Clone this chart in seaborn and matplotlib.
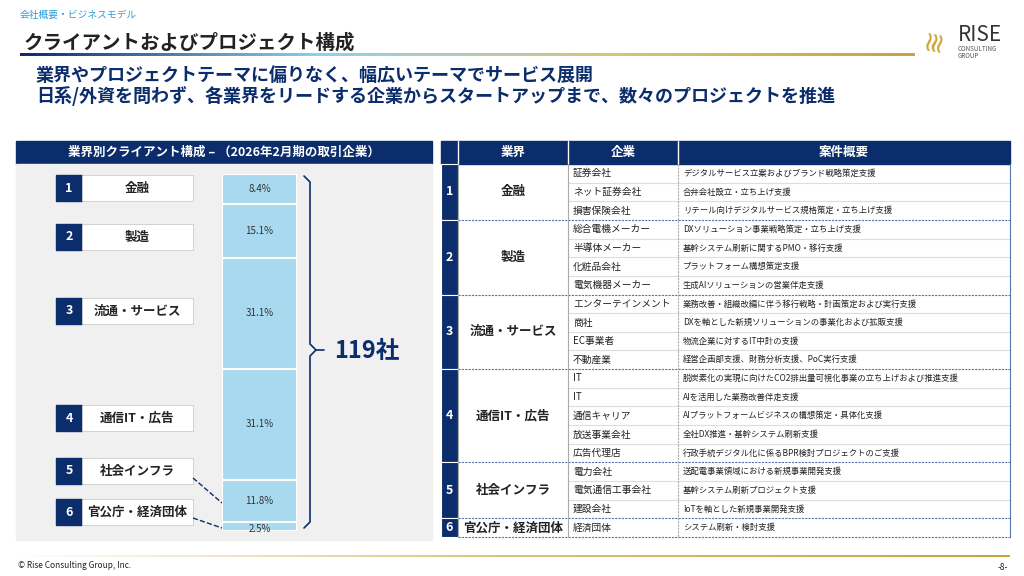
import numpy as np
import pandas as pd
import seaborn as sns
import matplotlib.pyplot as plt
from matplotlib.colors import LinearSegmentedColormap

sns.set_theme(style="white")
plt.rcParams['font.family'] = ['Noto Sans CJK JP', 'DejaVu Sans']

NAVY = "#0b2d6b"
BARC = "#a9d9ef"

# data
industries = ["金融", "製造", "流通・サービス", "通信IT・広告", "社会インフラ", "官公庁・経済団体"]
shares = [8.4, 15.1, 31.1, 31.1, 11.8, 2.5]
total_clients = "119社"
companies = [
    ["証券会社", "ネット証券会社", "損害保険会社"],
    ["総合電機メーカー", "半導体メーカー", "化粧品会社", "電気機器メーカー"],
    ["エンターテインメント", "商社", "EC事業者", "不動産業"],
    ["IT", "IT", "通信キャリア", "放送事業会社", "広告代理店"],
    ["電力会社", "電気通信工事会社", "建設会社"],
    ["経済団体"],
]
summaries = [
    ["デジタルサービス立案およびブランド戦略策定支援", "合弁会社設立・立ち上げ支援", "リテール向けデジタルサービス規格策定・立ち上げ支援"],
    ["DXソリューション事業戦略策定・立ち上げ支援", "基幹システム刷新に関するPMO・移行支援", "プラットフォーム構想策定支援", "生成AIソリューションの営業伴走支援"],
    ["業務改善・組織改編に伴う移行戦略・計画策定および実行支援", "DXを軸とした新規ソリューションの事業化および拡販支援", "物流企業に対するIT中計の支援", "経営企画部支援、財務分析支援、PoC実行支援"],
    ["脱炭素化の実現に向けたCO2排出量可視化事業の立ち上げおよび推進支援", "AIを活用した業務改善伴走支援", "AIプラットフォームビジネスの構想策定・具体化支援", "全社DX推進・基幹システム刷新支援", "行政手続デジタル化に係るBPR検討プロジェクトのご支援"],
    ["送配電事業領域における新規事業開発支援", "基幹システム刷新プロジェクト支援", "IoTを軸とした新規事業開発支援"],
    ["システム刷新・検討支援"],
]

fig = plt.figure(figsize=(10.24, 5.76), dpi=100)
ax = fig.add_axes([0, 0, 1, 1])
ax.set_xlim(0, 1024)
ax.set_ylim(576, 0)
ax.axis("off")

# header
ax.text(20, 15, "会社概要・ビジネスモデル", fontsize=7, color="#2a9fd6", va="center")
ax.text(24, 43, "クライアントおよびプロジェクト構成", fontsize=14, color="#222222", va="center", fontweight="bold")
grad = LinearSegmentedColormap.from_list("g", [NAVY, "#8fd0ee", "#d8c37a", "#c9a43a"])
ax.imshow(np.linspace(0, 1, 256)[None, :], cmap=grad, extent=(20, 915, 56.5, 54), aspect="auto")
ax.imshow(np.linspace(0, 1, 256)[None, :], cmap=LinearSegmentedColormap.from_list("f", ["#ffffff", "#d9c27a", "#c9a43a"]),
          extent=(15, 1010, 557.5, 555.5), aspect="auto")
ax.text(958, 35, "RISE", fontsize=15, color="#333333", va="center")
ax.text(958, 49, "CONSULTING", fontsize=4.5, color="#555555", va="center")
ax.text(958, 56, "GROUP", fontsize=4.5, color="#555555", va="center")
ax.text(934, 40, "≋", fontsize=20, color="#c9a43a", va="center", ha="center", rotation=80)
ax.text(36, 75, "業界やプロジェクトテーマに偏りなく、幅広いテーマでサービス展開", fontsize=13, color=NAVY, fontweight="bold", va="center")
ax.text(36, 96, "日系/外資を問わず、各業界をリードする企業からスタートアップまで、数々のプロジェクトを推進", fontsize=13, color=NAVY, fontweight="bold", va="center")
ax.text(18, 566, "© Rise Consulting Group, Inc.", fontsize=6, color="#222222", va="center")
ax.text(1008, 567, "-8-", fontsize=6, color="#222222", va="center", ha="right")

# left panel
ax.add_patch(plt.Rectangle((16, 141), 416, 23, color=NAVY))
ax.text(224, 152.5, "業界別クライアント構成 – （2026年2月期の取引企業）", fontsize=9, color="white", fontweight="bold", ha="center", va="center")
ax.add_patch(plt.Rectangle((16, 164), 416, 376, color="#f0f0f0"))

label_y = [188, 237, 311, 418, 471, 512]
for i, (name, y) in enumerate(zip(industries, label_y)):
    ax.add_patch(plt.Rectangle((56, y - 13), 26, 26, color=NAVY))
    ax.add_patch(plt.Rectangle((82, y - 13), 111, 26, facecolor="white", edgecolor="#cccccc", lw=0.6))
    ax.text(69, y, str(i + 1), fontsize=9, color="white", fontweight="bold", ha="center", va="center")
    ax.text(137, y, name, fontsize=9, color="#222222", fontweight="bold", ha="center", va="center")

# stacked bar via seaborn in an inset axes
bx = fig.add_axes([222 / 1024, 1 - 531 / 576, 75 / 1024, 357 / 576])
cum = np.cumsum(shares)
for i in range(len(industries) - 1, -1, -1):
    sns.barplot(x=[0], y=[cum[i]], color=BARC, edgecolor="white", linewidth=1.5, width=1.0, saturation=1, ax=bx)
bx.set_ylim(cum[-1], 0)
bx.set_xlim(-0.5, 0.5)
bx.axis("off")
starts = np.concatenate([[0], cum[:-1]])
for s, v in zip(starts, shares):
    bx.text(0, s + v / 2 + (0.8 if v < 3 else 0), f"{v}%", fontsize=7, ha="center", va="center", color="#333333")

# dashed connectors
ax.plot([193, 222], [478, 503], ls="--", color=NAVY, lw=1)
ax.plot([193, 222], [518, 528], ls="--", color=NAVY, lw=1)

# brace
bxs = 304
ax.plot([bxs, bxs + 6, bxs + 6, bxs + 12, bxs + 6, bxs + 6, bxs], [176, 182, 344, 350, 356, 522, 528], color=NAVY, lw=1.2)
ax.plot([bxs + 12, bxs + 20], [350, 350], color=NAVY, lw=1.2)
ax.text(334, 351, total_clients, fontsize=17, color=NAVY, fontweight="bold", va="center")

# table
cols = [441, 458, 568, 678, 1010]
top, head_h = 141, 23
nrows = sum(len(c) for c in companies)
row_h = (537 - 164) / nrows
ax.add_patch(plt.Rectangle((cols[0], top), cols[-1] - cols[0], head_h, color=NAVY))
for c0, c1, t in zip(cols[1:-1], cols[2:], ["業界", "企業", "案件概要"]):
    ax.text((c0 + c1) / 2, top + head_h / 2, t, fontsize=9, color="white", fontweight="bold", ha="center", va="center")
for c in cols[1:-1]:
    ax.plot([c, c], [top, top + head_h], color="white", lw=1)
y = 164
for g in range(len(industries)):
    n = len(companies[g])
    h = n * row_h
    ax.add_patch(plt.Rectangle((cols[0], y), cols[1] - cols[0], h, facecolor=NAVY, edgecolor="white", lw=0.8))
    ax.text((cols[0] + cols[1]) / 2, y + h / 2, str(g + 1), fontsize=9, color="white", fontweight="bold", ha="center", va="center")
    ax.text((cols[1] + cols[2]) / 2, y + h / 2, industries[g], fontsize=9, color="#222222", fontweight="bold", ha="center", va="center")
    for r in range(n):
        yc = y + (r + 0.5) * row_h
        ax.text(cols[2] + 5, yc, companies[g][r], fontsize=7, color="#222222", va="center")
        ax.text(cols[3] + 5, yc, summaries[g][r], fontsize=6, color="#222222", va="center")
        if r > 0:
            ax.plot([cols[2], cols[-1]], [y + r * row_h] * 2, color="#dddddd", lw=0.8)
    y += h
    ax.plot([cols[1], cols[-1]], [y, y], ls=(0, (2, 1)), color="#5577aa", lw=0.8)
for c in cols[1:]:
    ax.plot([c, c], [164, 537], color="#aaaaaa" if c < cols[-1] else "#5577aa", lw=0.8,
            ls="-" if c != cols[3] else (0, (2, 1)))

fig.savefig("out.png", dpi=100)
